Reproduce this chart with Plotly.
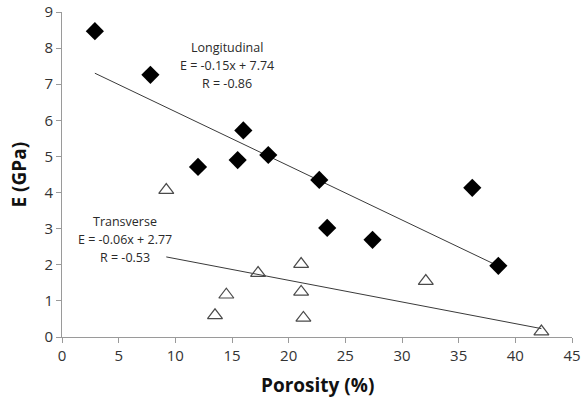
import plotly.graph_objects as go

# Longitudinal (filled diamonds)
long_x = [2.9, 7.8, 16.0, 12.0, 15.5, 18.2, 22.7, 23.4, 27.4, 36.2, 38.5]
long_y = [8.47, 7.26, 5.72, 4.71, 4.90, 5.04, 4.35, 3.02, 2.69, 4.13, 1.97]

# Transverse (open triangles)
trans_x = [9.2, 13.5, 14.5, 17.3, 21.1, 21.1, 21.3, 32.1, 42.3]
trans_y = [4.07, 0.60, 1.17, 1.77, 2.02, 1.25, 0.53, 1.55, 0.15]

# Trend lines (slope, intercept) as stated in chart labels
long_fit = (-0.15, 7.74)
trans_fit = (-0.06, 2.77)

long_label = ["Longitudinal", "E = -0.15x + 7.74", "R = -0.86"]
trans_label = ["Transverse", "E = -0.06x + 2.77", "R = -0.53"]

x_ticks = [0, 5, 10, 15, 20, 25, 30, 35, 40, 45]
y_ticks = [0, 1, 2, 3, 4, 5, 6, 7, 8, 9]

FONT = "Open Sans"
AX = "#9a9a9a"

fig = go.Figure()

def fit_line(xs, fit):
    x0, x1 = min(xs), max(xs)
    return [x0, x1], [fit[0] * x0 + fit[1], fit[0] * x1 + fit[1]]

lx, ly = fit_line(long_x, long_fit)
tx, ty = fit_line(trans_x, trans_fit)

fig.add_trace(go.Scatter(x=lx, y=ly, mode="lines",
                         line=dict(color="#3a3a3a", width=1), showlegend=False, hoverinfo="skip"))
fig.add_trace(go.Scatter(x=tx, y=ty, mode="lines",
                         line=dict(color="#3a3a3a", width=1), showlegend=False, hoverinfo="skip"))

fig.add_trace(go.Scatter(x=long_x, y=long_y, mode="markers", name="Longitudinal",
                         marker=dict(symbol="diamond", size=14, color="black",
                                     line=dict(width=0)), showlegend=False))
fig.add_trace(go.Scatter(x=trans_x, y=trans_y, mode="markers", name="Transverse",
                         marker=dict(symbol="triangle-up-open", size=13, color="#4a4a4a",
                                     line=dict(width=1.2, color="#4a4a4a")), showlegend=False))

def add_label(lines, x, y):
    for i, t in enumerate(lines):
        fig.add_annotation(x=x, y=y, xref="x", yref="y", yshift=18 - 18 * i,
                           text=t, showarrow=False,
                           font=dict(family=FONT, size=12.5, color="#2a2a2a"))

add_label(long_label, 14.6, 7.53)
add_label(trans_label, 5.6, 2.69)

# Axis titles
fig.add_annotation(x=0.5, y=0, xref="paper", yref="paper", yshift=-48,
                   text="<b>Porosity (%)</b>", showarrow=False,
                   font=dict(family=FONT, size=19, color="#111"), yanchor="middle")
fig.add_annotation(x=0, y=0.5, xref="paper", yref="paper", xshift=-44,
                   text="<b>E (GPa)</b>", showarrow=False, textangle=-90,
                   font=dict(family=FONT, size=19, color="#111"), xanchor="center")

fig.update_layout(
    width=582, height=397,
    margin=dict(l=62, r=10, t=12, b=60, autoexpand=False),
    paper_bgcolor="white", plot_bgcolor="white",
    font=dict(family=FONT, color="#222"),
    xaxis=dict(range=[0, 45], tickvals=x_ticks, showgrid=False, zeroline=False,
               showline=True, linecolor=AX, linewidth=1, ticks="outside",
               ticklen=5, tickcolor=AX, tickfont=dict(size=15, color="#333"),
               automargin=False),
    yaxis=dict(range=[0, 9], tickvals=y_ticks, showgrid=False, zeroline=False,
               showline=True, linecolor=AX, linewidth=1, ticks="outside",
               ticklen=5, tickcolor=AX, tickfont=dict(size=15, color="#333"),
               automargin=False),
)

fig.write_html("out.html", config={"displayModeBar": False},
               post_script="document.body.style.margin='0';document.body.style.overflow='hidden';")
